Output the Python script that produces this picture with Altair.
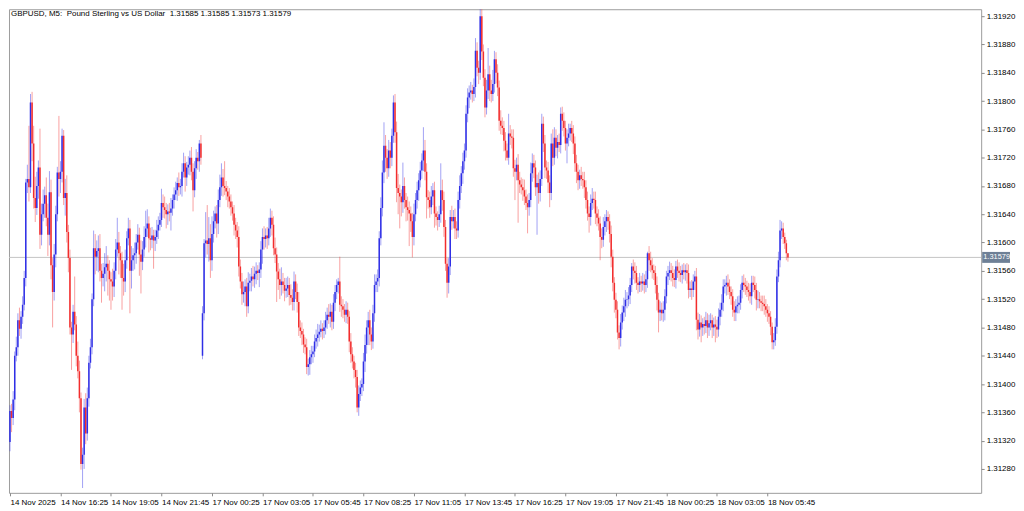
import altair as alt
import pandas as pd

# ---------------- data (prices in units of 0.00001 above 1.31000) ----------------
symbol = "GBPUSD, M5:"
description = "Pound Sterling vs US Dollar"

closes = [
    362, 352, 378, 440, 452, 490, 478, 495, 512, 550, 685, 690, 678, 798, 740, 663, 649, 680, 706, 611,
    640, 655, 667, 635, 611, 671, 568, 530, 583, 640, 699, 690, 700, 751, 663, 670, 615, 578, 480, 470,
    502, 484, 440, 418, 380, 287, 300, 367, 330, 380, 430, 452, 520, 592, 580, 588, 592, 560, 550, 556,
    565, 570, 560, 548, 545, 538, 560, 590, 600, 585, 575, 550, 545, 575, 606, 620, 560, 575, 582, 585,
    600, 611, 583, 573, 590, 608, 620, 627, 606, 604, 610, 603, 608, 617, 625, 632, 656, 650, 646, 640,
    644, 642, 648, 660, 668, 674, 684, 678, 680, 700, 712, 692, 706, 710, 720, 700, 674, 705, 720, 715,
    740, 720, 500, 599, 603, 598, 606, 575, 612, 630, 641, 627, 660, 678, 692, 680, 677, 672, 665, 658,
    650, 641, 625, 617, 608, 566, 545, 527, 530, 538, 510, 543, 546, 552, 548, 556, 560, 557, 562, 590,
    608, 605, 610, 606, 620, 635, 625, 592, 583, 559, 548, 540, 545, 540, 532, 535, 540, 526, 522, 516,
    545, 530, 516, 480, 475, 470, 456, 452, 424, 428, 438, 442, 446, 460, 465, 470, 474, 478, 475, 480,
    490, 498, 495, 502, 488, 515, 530, 540, 545, 512, 510, 505, 498, 505, 495, 460, 442, 432, 420, 410,
    367, 386, 395, 400, 432, 455, 480, 490, 470, 460, 500, 540, 545, 550, 606, 649, 699, 737, 720, 705,
    730, 720, 751, 798, 756, 677, 670, 665, 657, 680, 660, 650, 646, 641, 630, 608, 640, 660, 674, 688,
    702, 716, 730, 700, 664, 660, 650, 665, 674, 641, 636, 632, 640, 674, 660, 622, 570, 543, 566, 636,
    630, 636, 620, 617, 660, 680, 698, 715, 730, 782, 805, 812, 815, 810, 820, 871, 847, 840, 920, 870,
    833, 791, 815, 838, 815, 810, 824, 859, 840, 819, 772, 765, 762, 744, 730, 720, 754, 750, 748, 705,
    700, 710, 688, 682, 678, 674, 665, 656, 650, 660, 698, 712, 706, 678, 684, 670, 690, 768, 740, 706,
    702, 685, 670, 740, 720, 748, 734, 742, 738, 782, 772, 762, 740, 748, 754, 762, 754, 740, 712, 700,
    688, 695, 690, 688, 678, 660, 641, 636, 656, 662, 660, 641, 635, 627, 608, 604, 622, 630, 636, 630,
    612, 580, 543, 519, 505, 473, 465, 487, 501, 510, 519, 520, 525, 540, 566, 560, 557, 543, 540, 545,
    542, 545, 540, 548, 585, 575, 568, 561, 557, 540, 519, 501, 505, 500, 505, 524, 552, 557, 561, 557,
    550, 547, 566, 560, 557, 554, 561, 558, 561, 557, 533, 535, 533, 545, 552, 491, 477, 487, 480, 485,
    482, 490, 480, 486, 490, 480, 484, 481, 477, 495, 505, 515, 538, 540, 543, 538, 530, 524, 505, 501,
    510, 512, 515, 533, 543, 540, 538, 533, 530, 524, 543, 540, 533, 519, 520, 517, 515, 513, 510, 505,
    500, 495, 481, 459, 462, 481, 552, 575, 617, 620, 608, 599, 585, 579,
]

# upper wick above the body (points)
wick_up = [
    8, 10, 12, 6, 15, 10, 18, 8, 12, 10, 5, 20, 75, 12, 15, 25, 30, 20, 10, 55,
    15, 20, 12, 25, 20, 30, 18, 10, 15, 12, 8, 80, 15, 10, 8, 20, 25, 10, 12, 8,
    10, 50, 12, 20, 15, 8, 10, 12, 20, 15, 10, 12, 8, 25, 20, 15, 18, 20, 10, 15,
    20, 25, 12, 15, 10, 18, 12, 15, 35, 15, 10, 12, 20, 15, 10, 15, 12, 20, 10, 15,
    12, 15, 10, 20, 12, 15, 25, 20, 10, 15, 12, 8, 10, 15, 12, 10, 20, 12, 15, 10,
    10, 12, 15, 8, 10, 12, 8, 15, 10, 12, 15, 10, 8, 12, 10, 15, 12, 10, 12, 8,
    5, 12, 10, 6, 40, 50, 30, 20, 25, 15, 10, 12, 15, 18, 20, 12, 35, 10, 8, 12,
    10, 8, 12, 10, 12, 15, 10, 12, 15, 10, 12, 15, 10, 12, 15, 10, 12, 8, 10, 12,
    12, 15, 10, 12, 15, 13, 10, 12, 15, 10, 12, 15, 20, 12, 10, 15, 12, 10, 15, 12,
    14, 10, 12, 14, 10, 12, 8, 10, 12, 8, 10, 12, 8, 10, 12, 15, 10, 12, 8, 10,
    12, 10, 15, 12, 10, 12, 10, 8, 5, 35, 12, 10, 8, 12, 10, 8, 12, 10, 8, 10,
    10, 12, 10, 8, 12, 15, 10, 12, 15, 10, 12, 15, 10, 12, 10, 15, 17, 33, 15, 12,
    15, 12, 10, 10, 12, 15, 20, 12, 10, 33, 12, 10, 15, 12, 10, 12, 15, 10, 12, 10,
    12, 10, 33, 15, 12, 10, 12, 15, 10, 12, 10, 8, 12, 38, 15, 12, 10, 8, 12, 10,
    16, 10, 12, 10, 12, 15, 10, 12, 10, 12, 13, 10, 12, 8, 12, 18, 12, 10, 14, 12,
    10, 12, 15, 37, 12, 15, 20, 12, 10, 12, 10, 15, 12, 10, 12, 10, 28, 12, 10, 12,
    12, 10, 15, 12, 10, 12, 15, 10, 12, 10, 15, 14, 12, 10, 12, 15, 12, 14, 10, 12,
    10, 12, 10, 14, 20, 15, 12, 10, 12, 9, 10, 12, 10, 12, 14, 6, 10, 12, 10, 12,
    10, 8, 12, 10, 12, 10, 12, 10, 12, 15, 10, 12, 10, 12, 10, 12, 14, 10, 10, 8,
    10, 12, 10, 8, 10, 12, 10, 12, 10, 12, 14, 10, 12, 10, 5, 10, 12, 10, 8, 12,
    8, 12, 10, 12, 2, 10, 12, 10, 8, 10, 12, 10, 12, 10, 12, 10, 8, 10, 12, 10,
    10, 12, 8, 10, 12, 10, 8, 10, 8, 10, 12, 10, 12, 10, 8, 12, 10, 12, 10, 8,
    10, 12, 10, 12, 10, 8, 10, 12, 10, 12, 10, 12, 10, 8, 10, 12, 10, 8, 10, 12,
    10, 12, 10, 8, 10, 12, 10, 8, 10, 12, 10, 10, 12, 10, 12, 10, 8, 10, 12, 10,
    8, 10, 8, 6, 10, 12, 10, 12, 15, 10, 8, 6, 5, 0,
]

# lower wick below the body (points)
wick_down = [
    13, 20, 10, 15, 8, 12, 10, 14, 10, 8, 12, 15, 20, 8, 25, 15, 20, 10, 18, 20,
    15, 10, 20, 12, 30, 15, 20, 50, 12, 18, 10, 25, 20, 15, 10, 25, 15, 20, 10, 50,
    12, 8, 15, 10, 20, 8, 34, 20, 15, 10, 12, 8, 10, 10, 25, 20, 30, 15, 35, 12,
    25, 20, 35, 30, 40, 20, 15, 12, 10, 30, 25, 45, 20, 15, 12, 10, 60, 25, 15, 20,
    15, 10, 30, 45, 12, 10, 15, 12, 20, 15, 12, 40, 15, 10, 12, 8, 10, 15, 12, 20,
    15, 12, 25, 10, 12, 8, 15, 12, 10, 15, 8, 20, 12, 10, 15, 12, 30, 10, 15, 12,
    15, 10, 5, 10, 20, 15, 25, 25, 15, 12, 10, 20, 15, 10, 12, 15, 10, 12, 15, 10,
    12, 10, 15, 12, 15, 14, 10, 15, 12, 20, 15, 10, 12, 15, 10, 12, 15, 10, 20, 12,
    20, 15, 12, 15, 10, 12, 15, 10, 12, 43, 15, 20, 15, 12, 15, 10, 12, 15, 10, 12,
    12, 10, 15, 12, 10, 15, 12, 10, 10, 12, 15, 10, 12, 8, 10, 12, 10, 8, 12, 10,
    10, 12, 10, 15, 12, 10, 12, 10, 12, 10, 15, 12, 10, 12, 10, 15, 12, 10, 12, 15,
    7, 12, 10, 12, 10, 15, 12, 25, 15, 12, 10, 12, 10, 15, 12, 10, 12, 15, 20, 15,
    12, 15, 12, 10, 15, 20, 30, 45, 20, 15, 12, 20, 15, 46, 15, 29, 12, 10, 12, 15,
    10, 12, 15, 12, 30, 12, 15, 10, 12, 20, 12, 15, 10, 12, 15, 14, 10, 21, 15, 12,
    12, 10, 15, 12, 10, 12, 10, 15, 12, 10, 12, 15, 10, 12, 10, 15, 12, 16, 10, 12,
    12, 14, 10, 12, 15, 12, 10, 12, 15, 12, 14, 12, 10, 15, 14, 4, 10, 12, 15, 12,
    40, 12, 60, 12, 10, 15, 12, 10, 37, 12, 10, 12, 15, 12, 67, 15, 12, 10, 12, 15,
    12, 15, 20, 10, 12, 10, 12, 15, 10, 12, 14, 12, 10, 28, 12, 10, 12, 15, 12, 16,
    14, 12, 10, 12, 15, 12, 10, 22, 12, 10, 12, 15, 12, 10, 33, 12, 10, 12, 15, 12,
    12, 15, 12, 18, 12, 10, 16, 12, 10, 12, 15, 12, 10, 12, 10, 12, 15, 10, 12, 10,
    12, 10, 12, 10, 12, 15, 10, 12, 10, 12, 15, 28, 12, 10, 12, 15, 10, 12, 10, 12,
    12, 10, 12, 10, 12, 10, 12, 10, 12, 15, 12, 10, 14, 10, 12, 15, 14, 10, 21, 12,
    12, 10, 15, 12, 10, 15, 12, 22, 12, 10, 12, 10, 12, 10, 15, 12, 10, 12, 10, 12,
    12, 10, 12, 10, 12, 10, 12, 10, 12, 10, 12, 10, 12, 15, 12, 10, 12, 10, 12, 10,
    12, 10, 12, 10, 10, 8, 10, 8, 10, 12, 10, 8, 10, 6,
]

first_open = 318      # open of the first bar
gap_index = 122       # Monday open bar (weekend gap)
gap_open = 440

x_tick_idx = [0, 32, 64, 96, 128, 160, 192, 224, 256, 288, 320, 352, 384, 416, 448, 480]
x_tick_labels = ["14 Nov 2025", "14 Nov 16:25", "14 Nov 19:05", "14 Nov 21:45",
                 "17 Nov 00:25", "17 Nov 03:05", "17 Nov 05:45", "17 Nov 08:25",
                 "17 Nov 11:05", "17 Nov 13:45", "17 Nov 16:25", "17 Nov 19:05",
                 "17 Nov 21:45", "18 Nov 00:25", "18 Nov 03:05", "18 Nov 05:45"]
y_ticks = [1.31280, 1.31320, 1.31360, 1.31400, 1.31440, 1.31480, 1.31520, 1.31560,
           1.31600, 1.31640, 1.31680, 1.31720, 1.31760, 1.31800, 1.31840, 1.31880, 1.31920]

assert len(closes) == len(wick_up) == len(wick_down), (len(closes), len(wick_up), len(wick_down))

BASE = 1.31
SCALE = 1e5

opens = [first_open] + closes[:-1]
opens[gap_index] = gap_open

rows = []
for i, (o, c, hu, hd) in enumerate(zip(opens, closes, wick_up, wick_down)):
    rows.append({
        "i": i,
        "open": BASE + o / SCALE,
        "close": BASE + c / SCALE,
        "high": BASE + (max(o, c) + hu) / SCALE,
        "low": BASE + (min(o, c) - hd) / SCALE,
        "dir": "up" if c >= o else "down",
    })
df = pd.DataFrame(rows)

last = rows[-1]
fmt = lambda v: f"{v:.5f}"
title_text = (symbol + "\u00a0 " + description + "\u00a0 " +
              " ".join(fmt(last[k]) for k in ["open", "high", "low", "close"]))
cur = pd.DataFrame({"price": [last["close"]], "label": [fmt(last["close"])],
                    "title": [title_text]})

# ---------------- layout ----------------
W, H = 977, 486
step = (782.8 - 1.0) / (len(closes) - 1)
x_dom = [-1.0 / step, (W - 1.0) / step]
y_dom = [1.312462, 1.319298]

FONT = "Liberation Sans"
BLUE = "#2f2fe6"
RED = "#f22d2d"

label_expr = "[" + ",".join(f"'{s}'" for s in x_tick_labels) + "][round(datum.value/32)]"

x_enc = alt.X("i:Q", scale=alt.Scale(domain=x_dom, nice=False, zero=False),
              axis=alt.Axis(values=x_tick_idx, labelExpr=label_expr, labelAlign="left",
                            labelFont=FONT, labelFontSize=8, labelColor="#000000",
                            labelPadding=3, tickSize=3, tickColor="#8a8a8a",
                            domain=False, grid=False, title=None,
                            labelFlush=False, labelOverlap=False, labelBound=False))
y_scale = alt.Scale(domain=y_dom, nice=False, zero=False)
y_axis = alt.Axis(orient="right", values=y_ticks, format=".5f", labelFont=FONT,
                  labelFontSize=8, labelColor="#000000", tickSize=3, tickColor="#8a8a8a",
                  labelPadding=2, domain=False, grid=False, title=None)
color_enc = alt.Color("dir:N", scale=alt.Scale(domain=["up", "down"], range=[BLUE, RED]),
                      legend=None)

price_line = alt.Chart(cur).mark_rule(color="#c4c4c4", strokeWidth=1).encode(
    y=alt.Y("price:Q", scale=y_scale, axis=y_axis))

wicks = alt.Chart(df).mark_rule(strokeWidth=1, opacity=0.45, clip=True).encode(
    x=x_enc, y=alt.Y("low:Q", scale=y_scale, axis=y_axis), y2="high:Q", color=color_enc)

bodies = alt.Chart(df).mark_rule(strokeWidth=1.5, clip=True).encode(
    x=x_enc, y=alt.Y("open:Q", scale=y_scale, axis=y_axis), y2="close:Q", color=color_enc)

price_box = alt.Chart(cur).mark_rule(color="#6e8096", strokeWidth=11, strokeCap="butt").encode(
    y=alt.Y("price:Q", scale=y_scale, axis=y_axis), x=alt.value(W + 1), x2=alt.value(W + 29))

price_text = alt.Chart(cur).mark_text(color="white", font=FONT, fontSize=7.5, align="left",
                                      baseline="middle").encode(
    y=alt.Y("price:Q", scale=y_scale, axis=y_axis), x=alt.value(W + 2), text="label:N")

title = alt.Chart(cur).mark_text(color="#000000", font=FONT, fontSize=8, align="left",
                                 baseline="top").encode(
    x=alt.value(2), y=alt.value(1), text="title:N")

chart = alt.layer(price_line, wicks, bodies, price_box, price_text, title).properties(
    width=W, height=H, padding={"left": 0, "top": 0, "right": 0, "bottom": 0},
    background="white",
).configure_view(stroke="#9c9c9c", strokeWidth=1)

chart.save("out.html", embed_options={"renderer": "svg", "actions": False})
